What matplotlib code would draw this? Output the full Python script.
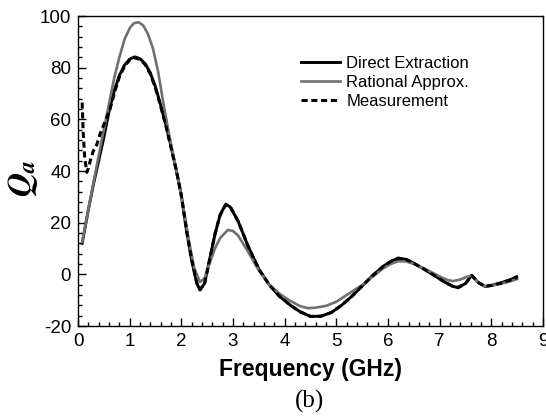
import matplotlib
matplotlib.use("Agg")
import matplotlib.pyplot as plt
from matplotlib.ticker import MultipleLocator

plt.rcParams["axes.unicode_minus"] = False

# Direct Extraction (black solid)
de_f = [0.08, 0.2, 0.3, 0.4, 0.5, 0.6, 0.7, 0.8, 0.9, 1.0, 1.1, 1.2, 1.3, 1.4,
        1.5, 1.6, 1.7, 1.8, 1.9, 2.0, 2.1, 2.2, 2.3, 2.36, 2.45, 2.55, 2.65,
        2.75, 2.86, 2.95, 3.1, 3.3, 3.5, 3.7, 3.9, 4.1, 4.3, 4.5, 4.7, 4.9,
        5.1, 5.3, 5.5, 5.7, 5.9, 6.05, 6.2, 6.35, 6.5, 6.7, 6.9, 7.1, 7.25,
        7.36, 7.5, 7.62, 7.75, 7.88, 8.0, 8.2, 8.4, 8.49]
de_q = [12, 25, 35, 44, 53, 63, 71, 77, 81, 83.3, 84.2, 83.5, 81.5, 78, 72.5,
        65.5, 58, 49.5, 40.5, 30.5, 17, 5.5, -3.5, -6, -3.5, 6, 15.5, 23, 27.2,
        26, 20.5, 10.5, 2, -4, -8.5, -11.8, -14.5, -16.3, -16.2, -14.8, -12,
        -8.5, -4.5, -0.5, 3, 5, 6.3, 5.8, 4.3, 2, -0.5, -3, -4.6, -5.2, -3.5,
        -0.4, -3.2, -4.7, -4.3, -3.2, -1.8, -0.9]

# Rational Approx. (gray solid)
ra_f = [0.08, 0.2, 0.3, 0.4, 0.5, 0.6, 0.7, 0.8, 0.9, 1.0, 1.08, 1.17, 1.26,
        1.35, 1.45, 1.55, 1.65, 1.75, 1.85, 1.95, 2.05, 2.15, 2.25, 2.36,
        2.45, 2.55, 2.65, 2.75, 2.9, 3.0, 3.1, 3.3, 3.5, 3.7, 3.9, 4.1, 4.3,
        4.45, 4.6, 4.8, 5.0, 5.2, 5.5, 5.7, 5.9, 6.05, 6.2, 6.35, 6.5, 6.7,
        6.9, 7.05, 7.15, 7.26, 7.4, 7.52, 7.62, 7.75, 7.88, 8.0, 8.2, 8.4, 8.5]
ra_q = [12.5, 25, 35.5, 46, 56, 66, 76, 84, 91, 95.3, 97.2, 97.6, 96.4, 93.2,
        87.5, 78.5, 66.5, 55.5, 45.5, 35.5, 24.5, 12.5, 2.5, -3, -1.5, 4.5, 10,
        14, 17.2, 16.8, 15, 8.5, 1.5, -4, -7.5, -10.2, -12.3, -13.1, -12.9,
        -12.2, -10.6, -8, -4.1, -1, 2.2, 4, 5.1, 5, 4, 2.3, 0.2, -1.3, -2.2,
        -2.6, -2, -1, -0.5, -3.2, -4.6, -4.4, -3.6, -2.5, -1.8]

# Measurement (black dashed)
ms_f = [0.08, 0.1, 0.13, 0.17, 0.2, 0.25, 0.3, 0.36, 0.43, 0.5, 0.62, 0.7,
        0.8, 0.9, 1.0, 1.1, 1.2, 1.3, 1.4, 1.5, 1.6, 1.7, 1.8, 1.9, 2.0, 2.1,
        2.2, 2.3, 2.36, 2.45, 2.55, 2.65, 2.75, 2.86, 2.95, 3.1, 3.3, 3.5,
        3.7, 3.9, 4.1, 4.3, 4.5, 4.7, 4.9, 5.1, 5.3, 5.5, 5.7, 5.9, 6.05, 6.2,
        6.35, 6.5, 6.7, 6.9, 7.1, 7.25, 7.36, 7.5, 7.62, 7.75, 7.88, 8.0, 8.2,
        8.4, 8.5]
ms_q = [66.5, 55, 45, 39.5, 41, 45, 48, 50, 54.5, 58, 64, 70, 76.5, 80.5, 83,
        83.8, 83.2, 81.2, 77.5, 72, 65, 57.5, 49, 40.5, 30.5, 17, 5.5, -3.5,
        -6, -3.5, 6, 15.5, 23, 27, 26, 20.5, 10.5, 2, -4, -8.5, -11.8, -14.5,
        -16.3, -16.2, -14.8, -12, -8.5, -4.5, -0.5, 3, 5, 6.2, 5.8, 4.3, 2,
        -0.5, -3, -4.6, -5, -3.5, -0.4, -3.2, -4.6, -4.3, -3.3, -2, -1.2]

fig = plt.figure(figsize=(5.46, 4.16), dpi=100)
ax = fig.add_axes([0.1429, 0.2163, 0.8516, 0.7452])

ax.plot(de_f, de_q, color="black", lw=2.1, label="Direct Extraction")
ax.plot(ra_f, ra_q, color="#707070", lw=1.9, label="Rational Approx.")
ax.plot(ms_f, ms_q, color="black", lw=2.2, ls=(0, (2.0, 1.2)), label="Measurement")

ax.set_xlim(0, 9)
ax.set_ylim(-20, 100)
ax.xaxis.set_major_locator(MultipleLocator(1))
ax.xaxis.set_minor_locator(MultipleLocator(0.2))
ax.yaxis.set_major_locator(MultipleLocator(20))
ax.yaxis.set_minor_locator(MultipleLocator(4))
ax.tick_params(which="both", direction="in", top=False, right=False,
               labelsize=13.5, width=1)
ax.tick_params(which="major", length=6, pad=5)
ax.tick_params(which="minor", length=3)
for lab in ax.get_xticklabels() + ax.get_yticklabels():
    lab.set_family("Liberation Sans")
for s in ax.spines.values():
    s.set_linewidth(1.0)

ax.set_xlabel("Frequency (GHz)", family="Liberation Sans", fontweight="bold",
              fontsize=16.5, labelpad=6)
fig.text(0.042, 0.572, "$\\mathbfit{Q}_{\\mathbfit{a}}$", rotation=90,
         fontsize=24, ha="center", va="center", math_fontfamily="stix")

ax.legend(loc="upper left", bbox_to_anchor=(0.448, 0.92), frameon=False,
          prop={"family": "Liberation Sans", "size": 12},
          handlelength=2.3, handletextpad=0.4, labelspacing=0.24)

fig.text(0.567, 0.036, "(b)", fontsize=18, ha="center", va="center",
         family="Liberation Serif")

fig.savefig("out.png", dpi=100)
